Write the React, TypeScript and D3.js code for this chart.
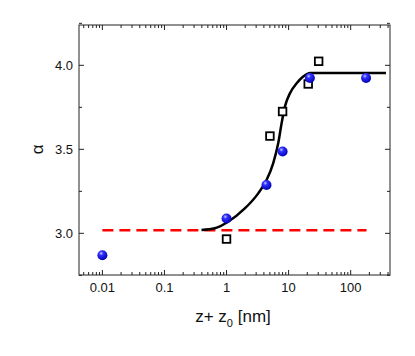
import React from "react";
import { scaleLog, scaleLinear, line, curveMonotoneX } from "d3";

// measured points
const circleX = [0.01, 1, 4.4, 8, 22, 177];
const circleY = [2.87, 3.088, 3.288, 3.487, 3.925, 3.925];
const squareX = [1, 5, 8, 20.7, 30.5];
const squareY = [2.966, 3.579, 3.725, 3.889, 4.024];
// fitted curve
const fitX = [0.395, 0.647, 1.06, 1.97, 3.24, 4.41, 5.64, 6.8, 7.71, 8.71, 10.5, 13.5, 17.2, 22.1, 50, 100, 200, 370];
const fitY = [3.02, 3.03, 3.069, 3.148, 3.238, 3.317, 3.417, 3.536, 3.655, 3.754, 3.833, 3.893, 3.933, 3.955, 3.955, 3.955, 3.955, 3.955];
// baseline
const baseX = [0.01, 180];
const baseY = [3.018, 3.018];

const xTicks = [0.01, 0.1, 1, 10, 100];
const xTickLabels = ["0.01", "0.1", "1", "10", "100"];
const yTicks = [3.0, 3.5, 4.0];
const yMinor = [2.75, 3.25, 3.75, 4.25];

const App = () => {
  const width = 415, height = 356;
  const left = 79, right = 390, top = 25, bottom = 275;

  const x = scaleLog().domain([0.0042, 430]).range([left, right]);
  const y = scaleLinear().domain([2.752, 4.24]).range([bottom, top]);

  const minorX: number[] = [];
  for (let e = -3; e <= 2; e++) {
    for (let m = 2; m <= 9; m++) {
      const v = m * Math.pow(10, e);
      if (v >= 0.0042 && v <= 430) minorX.push(v);
    }
  }

  const fitLine = line<number>()
    .x((d, i) => x(fitX[i]))
    .y((d) => y(d))
    .curve(curveMonotoneX);

  const font = "Arial, 'Liberation Sans', sans-serif";

  return (
    <svg width={width} height={height} style={{ position: "absolute", left: 0, top: 0 }}>
      <defs>
        <radialGradient id="ball" cx="0.38" cy="0.32" r="0.7">
          <stop offset="0" stopColor="#c8c8ff" />
          <stop offset="0.3" stopColor="#3030ff" />
          <stop offset="1" stopColor="#0000b0" />
        </radialGradient>
      </defs>
      <rect x={0} y={0} width={width} height={height} fill="#fff" />

      {/* ticks */}
      {xTicks.map((t, i) => (
        <g key={"xt" + t}>
          <line x1={x(t)} x2={x(t)} y1={bottom} y2={bottom - 5} stroke="#222" />
          <line x1={x(t)} x2={x(t)} y1={top} y2={top + 5} stroke="#222" />
          <text x={x(t)} y={bottom + 17} textAnchor="middle" fontSize={13} fontFamily={font} fill="#111">
            {xTickLabels[i]}
          </text>
        </g>
      ))}
      {minorX.map((t) => (
        <g key={"xm" + t}>
          <line x1={x(t)} x2={x(t)} y1={bottom} y2={bottom - 3} stroke="#222" />
          <line x1={x(t)} x2={x(t)} y1={top} y2={top + 3} stroke="#222" />
        </g>
      ))}
      {yTicks.map((t) => (
        <g key={"yt" + t}>
          <line x1={left} x2={left + 5} y1={y(t)} y2={y(t)} stroke="#222" />
          <line x1={right} x2={right - 5} y1={y(t)} y2={y(t)} stroke="#222" />
          <text x={left - 6} y={y(t) + 4.5} textAnchor="end" fontSize={13} fontFamily={font} fill="#111">
            {t.toFixed(1)}
          </text>
        </g>
      ))}
      {yMinor.map((t) => (
        <g key={"ym" + t}>
          <line x1={left} x2={left + 3} y1={y(t)} y2={y(t)} stroke="#222" />
          <line x1={right} x2={right - 3} y1={y(t)} y2={y(t)} stroke="#222" />
        </g>
      ))}
      <rect x={left} y={top} width={right - left} height={bottom - top} fill="none" stroke="#222" strokeWidth={1} />

      {/* dashed baseline */}
      <line
        x1={x(baseX[0])} x2={x(baseX[1])} y1={y(baseY[0])} y2={y(baseY[1])}
        stroke="#ff0000" strokeWidth={2.5} strokeDasharray="11,6"
      />
      {/* fit */}
      <path d={fitLine(fitY) || ""} fill="none" stroke="#000" strokeWidth={2.5} />

      {squareX.map((v, i) => (
        <rect key={"s" + i} x={x(v) - 3.8} y={y(squareY[i]) - 3.8} width={7.6} height={7.6}
          fill="#fff" stroke="#000" strokeWidth={1.8} />
      ))}
      {circleX.map((v, i) => (
        <circle key={"c" + i} cx={x(v)} cy={y(circleY[i])} r={5} fill="url(#ball)" />
      ))}

      {/* axis titles */}
      <text x={233} y={322} textAnchor="middle" fontSize={17} fontFamily={font} fill="#111">
        z+ z<tspan fontSize={11} dy={5}>0</tspan><tspan dy={-5}> [nm]</tspan>
      </text>
      <text transform={`translate(43, ${y(3.5)}) rotate(-90)`} textAnchor="middle" fontSize={17} fontFamily={font} fill="#111">
        α
      </text>
    </svg>
  );
};

export default App;
